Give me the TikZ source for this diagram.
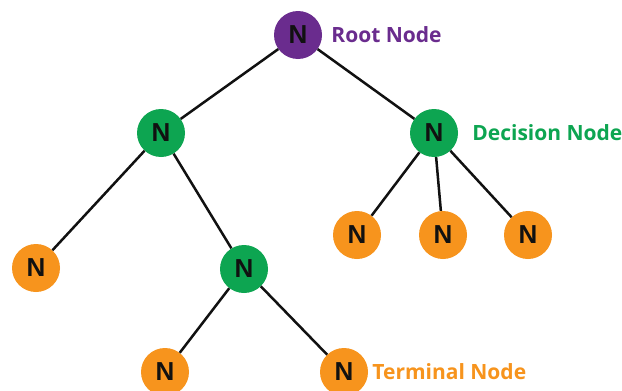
\documentclass[tikz,border=0pt]{standalone}
\usepackage{fontspec}
\setmainfont{Open Sans}
\newfontfamily\letterfont{Liberation Sans}
\usetikzlibrary{positioning}
\definecolor{dtRoot}{HTML}{6A2C8E}
\definecolor{dtDecision}{HTML}{0DA551}
\definecolor{dtLeaf}{HTML}{F7941D}
\definecolor{dtInk}{HTML}{111111}
\tikzset{
  treenode/.style={circle,minimum size=48pt,inner sep=0pt,
    font=\letterfont\bfseries\fontsize{26}{26}\selectfont,text=dtInk},
  rootnode/.style={treenode,fill=dtRoot},
  decnode/.style={treenode,fill=dtDecision},
  leafnode/.style={treenode,fill=dtLeaf},
  tag/.style={anchor=west,inner sep=0pt,font=\bfseries\fontsize{21}{21}\selectfont},
  branch/.style={draw=dtInk,line width=2.5pt}
}

\begin{document}
\begin{tikzpicture}[x=1pt,y=-1pt]
  \useasboundingbox[fill=white] (0,0) rectangle (622,391);

  % the tree
  \node[rootnode] (root) at (298,35) {N};
  \node[decnode] (decL) at (161,133) {N};
  \node[decnode] (decR) at (434,133) {N};
  \node[leafnode] (leafA) at (36,268) {N};
  \node[decnode] (decM) at (244,269) {N};
  \node[leafnode] (leafB) at (165,372) {N};
  \node[leafnode] (leafC) at (344,372) {N};
  \node[leafnode] (leafD) at (357,235) {N};
  \node[leafnode] (leafE) at (443,235) {N};
  \node[leafnode] (leafF) at (528,235) {N};

  \draw[branch] (root) -- (decL);
  \draw[branch] (root) -- (decR);
  \draw[branch] (decL) -- (leafA);
  \draw[branch] (decL) -- (decM);
  \draw[branch] (decM) -- (leafB);
  \draw[branch] (decM) -- (leafC);
  \draw[branch] (decR) -- (leafD);
  \draw[branch] (decR) -- (leafE);
  \draw[branch] (decR) -- (leafF);

  % labels
  \node[tag,text=dtRoot,right=9pt of root] (rootTag) {Root Node};
  \node[tag,text=dtDecision,right=14pt of decR] (decTag) {Decision Node};
  \node[tag,text=dtLeaf,right=4pt of leafC] (leafTag) {Terminal Node};
\end{tikzpicture}
\end{document}
